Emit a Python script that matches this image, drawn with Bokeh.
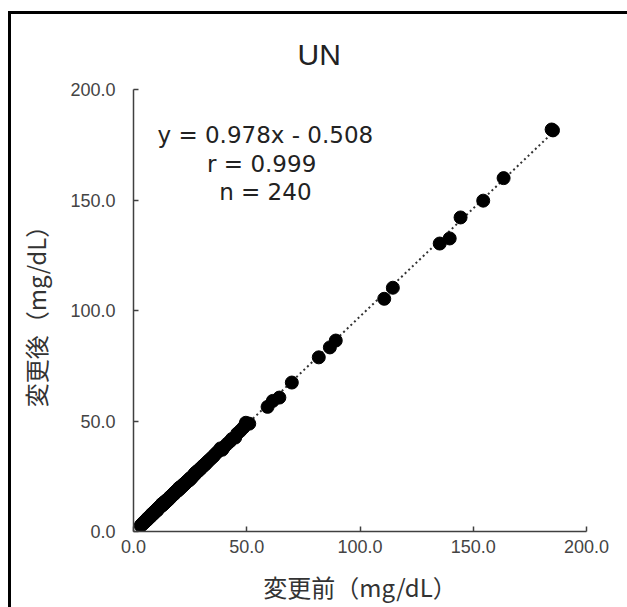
from bokeh.plotting import figure
from bokeh.models import Range1d, FixedTicker, PrintfTickFormatter, Label, ColumnDataSource
from bokeh.embed import file_html
from bokeh.resources import INLINE

# ---- data ----
before = [
    185.2, 184.6, 163.4, 154.4, 144.4, 139.6, 135.2, 114.5, 110.7, 89.3,
    86.7, 81.8, 69.9, 64.4, 61.5, 59.2, 51.1, 49.6, 48.5, 47.2,
    45.8, 44.9, 41.3, 40.0, 39.2, 38.4, 37.1,
    3.2, 3.6, 3.9, 4.1, 4.4, 4.6, 4.8, 5.0, 5.2, 5.4,
    5.5, 5.7, 5.9, 6.0, 6.2, 6.3, 6.5, 6.6, 6.8, 6.9,
    7.0, 7.1, 7.3, 7.4, 7.5, 7.7, 7.8, 7.9, 8.0, 8.1,
    8.2, 8.3, 8.4, 8.5, 8.6, 8.7, 8.8, 8.9, 9.0, 9.1,
    9.2, 9.3, 9.4, 9.5, 9.6, 9.7, 9.8, 9.9, 10.0, 10.1,
    10.2, 10.3, 10.4, 10.5, 10.6, 10.7, 10.8, 10.9, 11.0, 11.1,
    11.2, 11.3, 11.4, 11.5, 11.6, 11.7, 11.8, 11.9, 12.0, 12.1,
    12.2, 12.3, 12.4, 12.5, 12.6, 12.7, 12.8, 12.9, 13.0, 13.1,
    13.2, 13.3, 13.4, 13.5, 13.6, 13.7, 13.8, 13.9, 14.0, 14.1,
    14.2, 14.3, 14.5, 14.6, 14.7, 14.8, 15.0, 15.1, 15.2, 15.4,
    15.5, 15.6, 15.8, 15.9, 16.0, 16.2, 16.3, 16.5, 16.6, 16.8,
    16.9, 17.0, 17.2, 17.3, 17.5, 17.6, 17.8, 17.9, 18.1, 18.2,
    18.4, 18.5, 18.7, 18.8, 19.0, 19.1, 19.3, 19.5, 19.6, 19.8,
    20.0, 20.1, 20.3, 20.5, 20.7, 20.9, 21.0, 21.2, 21.4, 21.6,
    21.8, 22.0, 22.2, 22.4, 22.6, 22.8, 23.0, 23.2, 23.4, 23.7,
    23.9, 24.1, 24.4, 24.6, 24.9, 25.1, 25.4, 25.7, 26.0, 26.3,
    26.6, 26.9, 27.2, 27.5, 27.9, 28.2, 28.6, 29.0, 29.4, 29.8,
    30.2, 30.6, 31.0, 31.5, 32.0, 32.6, 33.1, 33.8, 34.5, 35.3,
    36.0, 42.6, 43.5, 10.5, 12.5, 14.4, 16.4, 18.0, 20.2, 22.5,
    7.6, 9.0, 11.0, 13.0, 15.3, 17.1, 19.4, 21.3, 25.0, 27.0,
    5.8, 6.7, 8.3, 9.6, 11.6, 12.2, 13.6, 14.9, 16.1, 18.6,
    23.5, 28.0, 31.2,
]
after = [
    181.5, 181.9, 159.9, 149.7, 142.1, 132.6, 130.3, 110.3, 105.3, 86.4,
    83.3, 78.8, 67.4, 60.6, 59.1, 56.4, 48.8, 49.2, 47.0, 45.6,
    44.3, 42.5, 39.6, 38.2, 37.0, 37.6, 36.0,
    2.7, 3.0, 3.5, 3.4, 4.0, 4.2, 4.1, 4.6, 4.5, 5.0,
    4.8, 5.3, 5.1, 5.4, 5.9, 5.6, 6.0, 6.3, 6.1, 6.4,
    6.7, 6.3, 6.8, 7.0, 6.9, 7.2, 7.5, 7.1, 7.6, 7.4,
    7.9, 7.7, 8.0, 7.8, 8.3, 8.0, 8.4, 8.2, 8.6, 8.5,
    8.7, 9.0, 8.8, 9.1, 8.9, 9.3, 9.2, 9.5, 9.3, 9.7,
    9.5, 9.9, 9.8, 10.1, 9.9, 10.3, 10.2, 10.6, 10.4, 10.8,
    10.6, 11.0, 10.8, 11.2, 11.0, 11.3, 11.1, 11.5, 11.4, 11.8,
    11.5, 11.9, 11.7, 12.1, 11.9, 12.3, 12.0, 12.4, 12.2, 12.6,
    12.5, 12.8, 12.6, 13.0, 12.9, 13.2, 13.0, 13.4, 13.1, 13.6,
    13.4, 13.7, 13.9, 13.6, 14.1, 14.0, 14.3, 14.5, 14.2, 14.8,
    14.6, 15.0, 15.1, 14.9, 15.4, 15.3, 15.7, 15.6, 16.0, 15.9,
    16.3, 16.1, 16.6, 16.4, 16.8, 16.7, 17.1, 16.9, 17.4, 17.3,
    17.6, 17.9, 17.8, 18.2, 18.1, 18.4, 18.3, 18.8, 18.6, 19.0,
    19.2, 19.0, 19.6, 19.4, 19.9, 19.8, 20.2, 20.3, 20.5, 20.8,
    20.6, 21.2, 21.1, 21.6, 21.4, 21.9, 21.8, 22.3, 22.2, 22.6,
    22.9, 22.8, 23.4, 23.2, 23.9, 23.7, 24.4, 24.3, 24.9, 25.1,
    25.4, 25.9, 26.0, 26.6, 26.7, 27.3, 27.4, 28.0, 28.1, 28.8,
    29.0, 29.6, 29.8, 30.4, 30.7, 31.5, 31.9, 32.6, 33.3, 34.0,
    34.9, 40.8, 41.9, 9.6, 12.4, 14.0, 15.5, 17.5, 19.8, 21.7,
    7.3, 8.2, 10.7, 12.5, 14.7, 16.5, 18.5, 20.6, 24.0, 26.2,
    5.5, 6.2, 8.1, 9.2, 11.2, 11.9, 13.2, 14.3, 15.6, 17.9,
    22.5, 27.0, 30.0,
]
slope = 0.978
intercept = -0.508
stats_lines = ["y = 0.978x - 0.508", "r  = 0.999", "n = 240"]
ticks = [0, 50, 100, 150, 200]
title_text = "UN"
x_title = "変更前（mg/dL）"
y_title = "変更後（mg/dL）"

JP = "Noto Sans CJK JP"
LAT = "Liberation Sans"
WIDE = "DejaVu Sans"

p = figure(width=619, height=596, output_backend="svg", toolbar_location=None,
           x_range=Range1d(0, 200), y_range=Range1d(0, 200),
           min_border_left=122, min_border_right=44, min_border_top=75, min_border_bottom=79)
p.styles = {"border-top": "3px solid black", "border-left": "3px solid black",
            "margin-left": "8px", "margin-top": "11px"}
p.outline_line_color = None
p.grid.visible = False
p.background_fill_color = "white"
p.border_fill_color = "white"

p.title.text = title_text
p.title.align = "left"
p.title.offset = 164
p.title.text_font = LAT
p.title.text_font_size = "30px"
p.title.text_font_style = "normal"
p.title.text_color = "#222222"
p.title.standoff = 38

for ax in (p.xaxis[0], p.yaxis[0]):
    ax.ticker = FixedTicker(ticks=ticks)
    ax.formatter = PrintfTickFormatter(format="%.1f")
    ax.axis_line_color = "#404040"
    ax.axis_line_width = 1.5
    ax.major_tick_in = 5
    ax.major_tick_out = 0
    ax.major_tick_line_color = "#404040"
    ax.major_tick_line_width = 1.5
    ax.minor_tick_line_color = None
    ax.major_label_text_font = LAT
    ax.major_label_text_font_size = "18px"
    ax.major_label_text_color = "#444444"
    ax.axis_label_text_font = JP
    ax.axis_label_text_font_size = "24px"
    ax.axis_label_text_font_style = "normal"
    ax.axis_label_text_color = "#333333"
p.xaxis.major_label_standoff = 8
p.yaxis.major_label_standoff = 18
p.xaxis.axis_label = x_title
p.yaxis.axis_label = y_title
p.xaxis.axis_label_standoff = 13
p.yaxis.axis_label_standoff = 14

# trend line from the fit coefficients
x0, x1 = min(before), max(before)
p.line([x0, x1], [slope * x0 + intercept, slope * x1 + intercept],
       line_color="#333333", line_width=2, line_dash="2 3")

src = ColumnDataSource(dict(x=before, y=after))
p.scatter("x", "y", source=src, size=13, fill_color="black", line_color="black")

# regression statistics inside the plot area
for t, yy in zip(stats_lines, [179.3, 166.4, 153.6]):
    p.add_layout(Label(x=58.2, y=yy, text=t, text_align="center", text_baseline="middle",
                       text_font=WIDE, text_font_size="23px", text_color="#222222"))

open("out.html", "w").write(file_html(p, INLINE))
